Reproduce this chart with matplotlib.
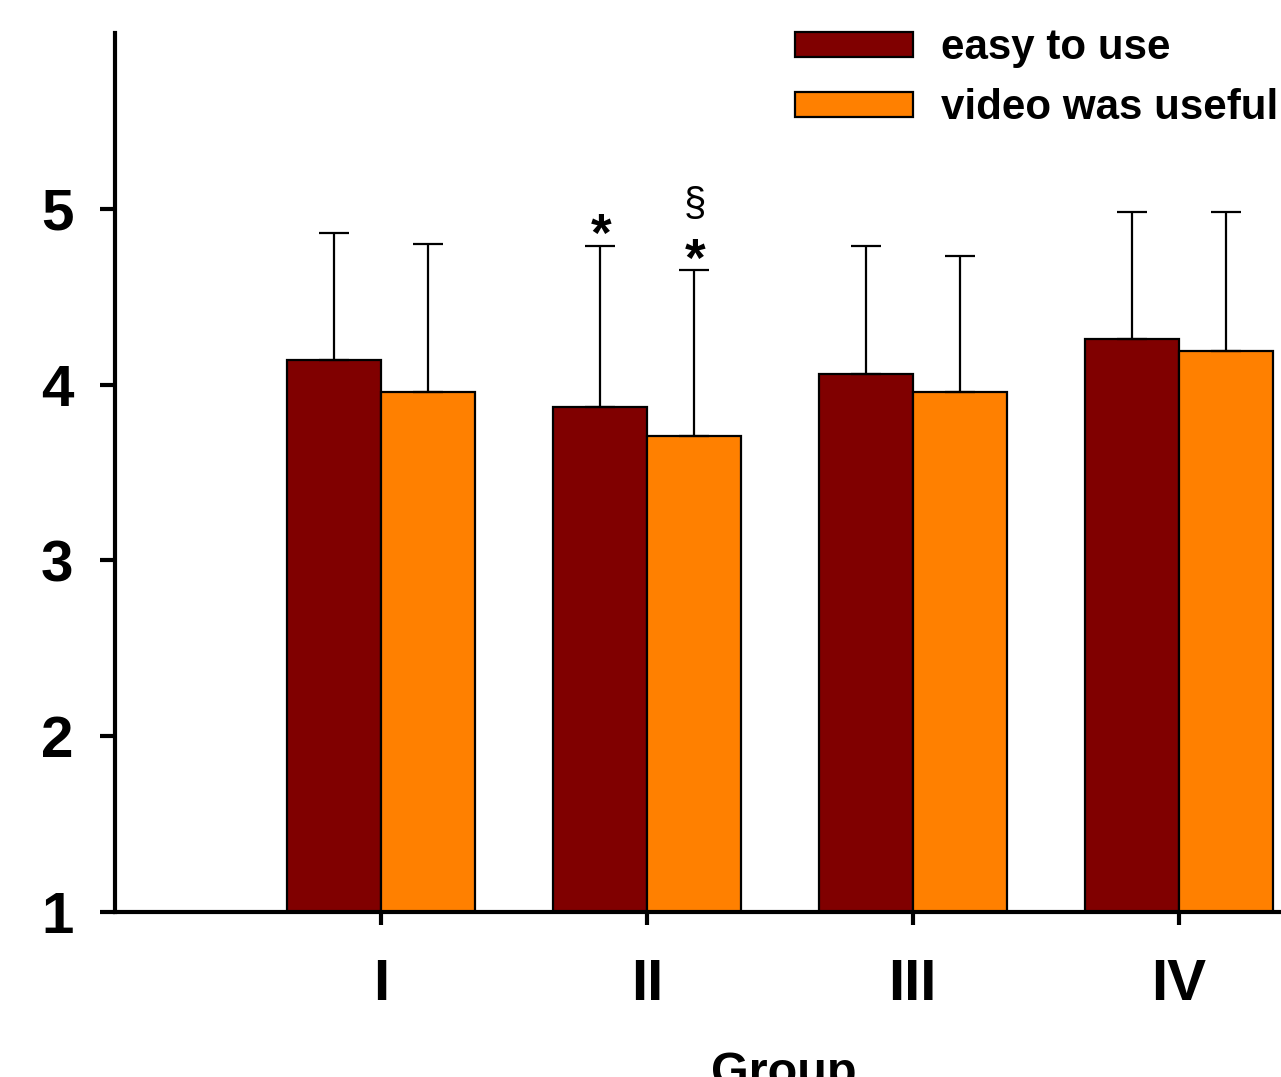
import matplotlib
matplotlib.use('Agg')
import matplotlib.pyplot as plt
import numpy as np

plt.rcParams['font.family'] = ['Liberation Sans', 'DejaVu Sans']
plt.rcParams['font.weight'] = 'bold'

groups = ['I', 'II', 'III', 'IV']
easy = [4.14, 3.87, 4.06, 4.26]
easy_sd = [0.72, 0.92, 0.73, 0.72]
video = [3.96, 3.71, 3.96, 4.19]
video_sd = [0.84, 0.94, 0.77, 0.79]
# significance marks: (group index, series, text)
marks = [(1, 'easy', '*'), (1, 'video', '*'), (1, 'video', '§')]

dark = '#800000'
orange = '#FF8000'

fig = plt.figure(figsize=(12.81, 10.77), dpi=100)
ax = fig.add_axes([115/1281, 165/1077, 1170/1281, 879/1077])

x = np.arange(1, len(groups) + 1)
w = 0.353
err_kw = dict(elinewidth=1.6, capsize=10.8, capthick=1.6, ecolor='black')

ax.bar(x - w/2, easy, w, color=dark, edgecolor='black', linewidth=1.6,
       yerr=[np.zeros(len(easy)), easy_sd], error_kw=err_kw, label='easy to use')
ax.bar(x + w/2, video, w, color=orange, edgecolor='black', linewidth=1.6,
       yerr=[np.zeros(len(video)), video_sd], error_kw=err_kw, label='video was useful')

# stars / section signs over the error bars
for gi, series, txt in marks:
    if series == 'easy':
        xp = x[gi] - w/2
        yp = easy[gi] + easy_sd[gi]
    else:
        xp = x[gi] + w/2
        yp = video[gi] + video_sd[gi]
    if txt == '*':
        ax.annotate(txt, (xp, yp), xytext=(1, -12), textcoords='offset points',
                    ha='center', va='bottom', fontsize=38, fontweight='bold')
    else:
        ax.annotate(txt, (xp, yp), xytext=(1, 33), textcoords='offset points',
                    ha='center', va='bottom', fontsize=29, fontweight='normal')

ax.set_xlim(0, 4.4)
ax.set_ylim(1, 6.0)
ax.set_yticks([1, 2, 3, 4, 5])
ax.set_xticks(x)
ax.set_xticklabels(groups)

for s in ['top', 'right']:
    ax.spines[s].set_visible(False)
for s in ['left', 'bottom']:
    ax.spines[s].set_linewidth(3)

ax.tick_params(axis='y', length=11, width=3, pad=19, labelsize=42)
ax.tick_params(axis='x', length=9, width=3, pad=24, labelsize=42)

ax.set_xlabel('Group', fontsize=35, fontweight='bold')
ax.xaxis.set_label_coords(0.572, -0.158)

ax.legend(loc='upper left', bbox_to_anchor=(795/1281, 1 - 28/1077),
          bbox_transform=fig.transFigure, frameon=False, fontsize=30.3,
          handlelength=2.8, handleheight=0.54, handletextpad=0.68,
          labelspacing=0.48, borderpad=0, borderaxespad=0)

fig.savefig('out.png', dpi=100)
